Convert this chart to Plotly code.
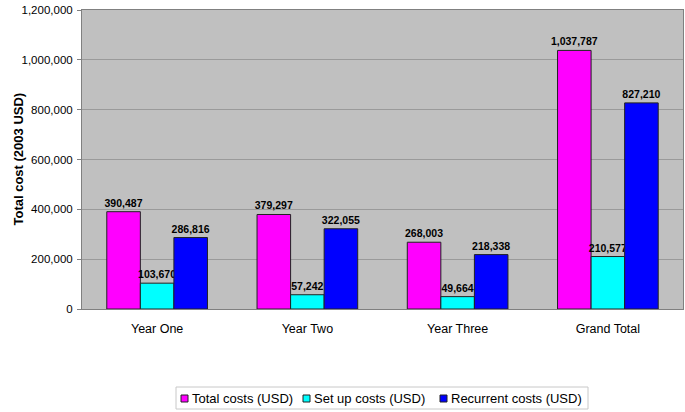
import plotly.graph_objects as go

categories = ["Year One", "Year Two", "Year Three", "Grand Total"]
total_costs = [390487, 379297, 268003, 1037787]
setup_costs = [103670, 57242, 49664, 210577]
recurrent_costs = [286816, 322055, 218338, 827210]
y_ticks = [0, 200000, 400000, 600000, 800000, 1000000, 1200000]

series_names = ["Total costs (USD)", "Set up costs (USD)", "Recurrent costs (USD)"]
series_values = [total_costs, setup_costs, recurrent_costs]
series_colors = ["#FF00FF", "#00FFFF", "#0000FF"]
y_title = "Total cost (2003 USD)"

W, H = 685, 412
ML, MR, MT, MB = 82, 2, 10, 103
PW, PH = W - ML - MR, H - MT - MB

def px_x(px):
    return (px - ML) / PW

def px_y(py):
    return (H - MB - py) / PH

fig = go.Figure()
for name, vals, color in zip(series_names, series_values, series_colors):
    fig.add_trace(go.Bar(
        name=name, x=categories, y=vals,
        marker=dict(color=color, line=dict(color="#222222", width=1)),
        texttemplate="<b>%{y:,}</b>", textposition="outside",
        textfont=dict(family="Liberation Sans, Arial", size=10.5, color="#000000"),
        constraintext="none",
        cliponaxis=False,
        showlegend=False,
    ))

# Legend box (drawn to match the compact original legend)
shapes = [dict(type="rect", xref="paper", yref="paper",
               x0=px_x(176), x1=px_x(588), y0=px_y(409), y1=px_y(387),
               line=dict(color="#C8C8C8", width=1), fillcolor="white", layer="above")]
annotations = []
legend_sq_x = [181, 303, 440]
for sx, name, color in zip(legend_sq_x, series_names, series_colors):
    shapes.append(dict(type="rect", xref="paper", yref="paper",
                       x0=px_x(sx), x1=px_x(sx + 7), y0=px_y(402), y1=px_y(395),
                       line=dict(color="#222222", width=1), fillcolor=color, layer="above"))
    annotations.append(dict(text=name, xref="paper", yref="paper",
                            x=px_x(sx + 9), y=px_y(398.5), xanchor="left", yanchor="middle",
                            showarrow=False, font=dict(size=13, color="#000000")))

# Y axis title
annotations.append(dict(text="<b>" + y_title + "</b>", xref="paper", yref="paper",
                        x=px_x(18), y=0.5, xanchor="center", yanchor="middle",
                        textangle=-90, showarrow=False,
                        font=dict(size=13, color="#000000")))

fig.update_layout(
    width=W, height=H,
    margin=dict(l=ML, r=MR, t=MT, b=MB, autoexpand=False),
    paper_bgcolor="white", plot_bgcolor="#C0C0C0",
    barmode="group", bargap=0.33, bargroupgap=0,
    font=dict(family="Liberation Sans, Arial", size=11, color="#000000"),
    showlegend=False,
    shapes=shapes, annotations=annotations,
)
fig.update_yaxes(
    range=[0, 1200000], tickvals=y_ticks, tickformat=",",
    gridcolor="#9A9A9A", gridwidth=1,
    showline=True, linecolor="#808080", mirror=True,
    ticks="outside", ticklen=4, tickcolor="#808080", ticklabelstandoff=2,
    tickfont=dict(size=11.5),
    zeroline=False, automargin=False,
)
fig.update_xaxes(
    showline=True, linecolor="#808080", mirror=True,
    tickfont=dict(size=12.5), ticks="", ticklabelstandoff=8,
    automargin=False,
)
fig.write_html("out.html", config={"displayModeBar": False},
               post_script="document.body.style.margin='0';document.body.style.overflow='hidden';")
